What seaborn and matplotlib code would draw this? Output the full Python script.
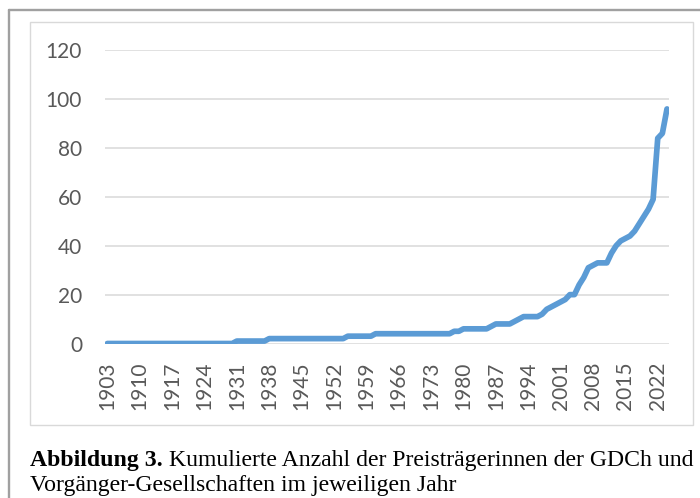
import matplotlib
matplotlib.use("Agg")
import matplotlib.pyplot as plt
import seaborn as sns
import pandas as pd
from matplotlib.lines import Line2D
from matplotlib.patches import Rectangle

# ---------------- data ----------------
years = list(range(1903, 2025))
counts = [
    # 1903-1930
    0, 0, 0, 0, 0, 0, 0, 0, 0, 0, 0, 0, 0, 0, 0, 0, 0, 0, 0, 0, 0, 0, 0, 0, 0, 0, 0, 0,
    # 1931-1937
    1, 1, 1, 1, 1, 1, 1,
    # 1938-1954
    2, 2, 2, 2, 2, 2, 2, 2, 2, 2, 2, 2, 2, 2, 2, 2, 2,
    # 1955-1960
    3, 3, 3, 3, 3, 3,
    # 1961-1977
    4, 4, 4, 4, 4, 4, 4, 4, 4, 4, 4, 4, 4, 4, 4, 4, 4,
    # 1978-1990
    5, 5, 6, 6, 6, 6, 6, 6, 7, 8, 8, 8, 8,
    # 1991-2004
    9, 10, 11, 11, 11, 11, 12, 14, 15, 16, 17, 18, 20, 20,
    # 2005-2024
    24, 27, 31, 32, 33, 33, 33, 37, 40, 42, 43, 44, 46, 49, 52, 55, 59, 84, 86, 96,
]
xtick_years = [1903, 1910, 1917, 1924, 1931, 1938, 1945, 1952, 1959, 1966,
               1973, 1980, 1987, 1994, 2001, 2008, 2015, 2022]
yticks = [0, 20, 40, 60, 80, 100, 120]
caption_bold = "Abbildung 3."
caption_rest1 = " Kumulierte Anzahl der Preisträgerinnen der GDCh und"
caption_line2 = "Vorgänger-Gesellschaften im jeweiligen Jahr"

df = pd.DataFrame({"Jahr": years, "Anzahl": counts})

# ---------------- style ----------------
sns.set_style("white")
plt.rcParams["font.family"] = ["Lato", "DejaVu Sans"]

W, H = 700, 498
fig = plt.figure(figsize=(W / 100, H / 100), dpi=100)
fig.patch.set_facecolor("white")

# plot area (pixel-derived)
left, right = 105 / W, 669.3 / W
bottom, top = 1 - 343.5 / H, 1 - 50.3 / H
ax = fig.add_axes([left, bottom, right - left, top - bottom])

sns.lineplot(data=df, x="Jahr", y="Anzahl", ax=ax, color="#5B9BD5",
             linewidth=4.1, solid_capstyle="round", solid_joinstyle="round",
             zorder=3)

ax.set_xlim(years[0] - 0.5, years[-1] + 0.5)
ax.set_ylim(0, 120)
ax.set_yticks(yticks)
ax.set_xticks(xtick_years)
ax.set_xticklabels([str(y) for y in xtick_years], rotation=90)
ax.set_xlabel("")
ax.set_ylabel("")
for s in ax.spines.values():
    s.set_visible(False)
ax.grid(axis="y", color="#D9D9D9", linewidth=1.1, zorder=0)
ax.grid(axis="x", visible=False)
ax.tick_params(axis="both", length=0, labelsize=15, colors="#595959")
ax.tick_params(axis="y", pad=16.5)
ax.tick_params(axis="x", pad=13)
ax.set_facecolor("none")

# ---------------- frames ----------------
# outer frame (extends beyond the image right/bottom)
fig.add_artist(Line2D([9 / W, 1.01], [1 - 10.5 / H, 1 - 10.5 / H],
                      transform=fig.transFigure, color="#A0A0A0", linewidth=1.7))
fig.add_artist(Line2D([9 / W, 9 / W], [1 - 10.5 / H, -0.01],
                      transform=fig.transFigure, color="#A0A0A0", linewidth=1.7))
# inner chart frame
fig.add_artist(Rectangle((30 / W, 1 - 425 / H), (693 - 30) / W, (425 - 21.7) / H,
                         transform=fig.transFigure, fill=False,
                         edgecolor="#D9D9D9", linewidth=1.0))

# ---------------- caption ----------------
serif = ["Liberation Serif", "DejaVu Serif"]
fs = 16.0
x0 = 30 / W
y1 = 1 - 466 / H
y2 = 1 - 491 / H
t1 = fig.text(x0, y1, caption_bold, fontsize=fs, fontweight="bold",
              family=serif, va="baseline", ha="left", color="black")
t2 = fig.text(x0, y1, caption_rest1, fontsize=fs, family=serif,
              va="baseline", ha="left", color="black")
t3 = fig.text(x0, y2, caption_line2, fontsize=fs, family=serif,
              va="baseline", ha="left", color="black")

target = 693 - 30
for _ in range(3):
    fig.canvas.draw()
    r = fig.canvas.get_renderer()
    e1 = t1.get_window_extent(r)
    t2.set_x(e1.x1 / W)
    fig.canvas.draw()
    e2 = t2.get_window_extent(r)
    width = e2.x1 - e1.x0
    fs = fs * target / width
    for t in (t1, t2, t3):
        t.set_fontsize(fs)
fig.canvas.draw()
r = fig.canvas.get_renderer()
e1 = t1.get_window_extent(r)
t2.set_x(e1.x1 / W)

fig.savefig("out.png", dpi=100)
